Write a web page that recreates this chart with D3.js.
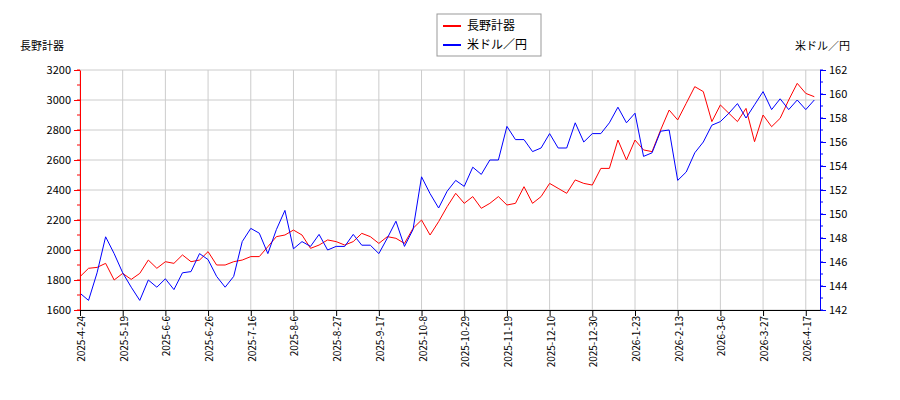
<!DOCTYPE html>
<html><head><meta charset="utf-8">
<script src="https://cdn.jsdelivr.net/npm/d3@7"></script>
<style>body{margin:0;background:#fff}text{font-family:"Noto Sans CJK JP","DejaVu Sans",sans-serif}</style>
</head><body><svg id="c" width="900" height="400"></svg>
<script>
const tickLabels=["2025-4-24","2025-5-19","2025-6-6","2025-6-26","2025-7-16","2025-8-6","2025-8-27","2025-9-17","2025-10-8","2025-10-29","2025-11-19","2025-12-10","2025-12-30","2026-1-23","2026-2-13","2026-3-6","2026-3-27","2026-4-17"];
const stock=[1822,1878,1884,1911,1800,1844,1804,1844,1933,1878,1922,1911,1967,1922,1933,1989,1900,1900,1922,1933,1956,1956,2022,2089,2100,2133,2100,2011,2033,2067,
2056,2033,2056,2111,2089,2044,2089,2078,2044,2144,2200,2100,2189,2289,2378,2311,2356,2278,2311,2356,2300,2311,2422,2311,2356,2444,2411,2378,
2467,2444,2433,2544,2544,2733,2600,2733,2667,2656,2800,2933,2867,2978,3089,3056,2856,2967,2911,2856,2944,2722,2900,2822,2878,3000,3111,3044,3022];
const usd=[143.4,142.8,145.1,148.1,146.7,145.1,143.9,142.8,144.5,143.9,144.6,143.7,145.1,145.2,146.7,146.2,144.8,143.9,144.8,147.7,148.8,148.4,146.7,148.7,150.3,147.1,147.7,147.3,148.3,147.0,
147.3,147.3,148.3,147.4,147.4,146.7,148.0,149.4,147.3,148.7,153.1,151.7,150.5,151.9,152.8,152.3,153.9,153.3,154.5,154.5,157.3,156.2,156.2,155.2,155.5,156.7,155.5,155.5,
157.6,156.0,156.7,156.7,157.6,158.9,157.6,158.4,154.8,155.1,156.9,157.0,152.8,153.5,155.1,156.0,157.4,157.7,158.4,159.2,158.0,159.1,160.2,158.7,159.6,158.7,159.5,158.7,159.5];
const STEP=3, TICKSTEP=15;
const svg=d3.select("#c");
const L=80,R=820,T=70,B=310;
const x=d3.scaleLinear().domain([0,260]).range([L,R]);
const yL=d3.scaleLinear().domain([1600,3200]).range([B,T]);
const yR=d3.scaleLinear().domain([142,162]).range([B,T]);
const tv=tickLabels.map((d,i)=>i*TICKSTEP);
const g=svg.append("g");
yL.ticks(8).forEach(v=>g.append("line").attr("x1",L).attr("x2",R).attr("y1",yL(v)).attr("y2",yL(v)).attr("stroke","#ccc"));
tv.forEach(v=>g.append("line").attr("x1",x(v)).attr("x2",x(v)).attr("y1",T).attr("y2",B).attr("stroke","#ccc"));
svg.append("path").datum(stock).attr("fill","none").attr("stroke","red").attr("d",d3.line().x((d,i)=>x(i*STEP)).y(d=>yL(d)));
svg.append("path").datum(usd).attr("fill","none").attr("stroke","blue").attr("d",d3.line().x((d,i)=>x(i*STEP)).y(d=>yR(d)));
const la=svg.append("g").attr("transform",`translate(${L},0)`).call(d3.axisLeft(yL).ticks(8).tickFormat(d3.format("d")).tickSizeOuter(0));
la.selectAll("text").attr("font-size",11);la.selectAll("path,line").attr("stroke","red");
la.append("g").selectAll("line").data(d3.range(1600,3201,100)).join("line").attr("x1",-3).attr("x2",0).attr("y1",d=>yL(d)).attr("y2",d=>yL(d)).attr("stroke","red");
const ra=svg.append("g").attr("transform",`translate(${R},0)`).call(d3.axisRight(yR).ticks(10).tickSizeOuter(0));
ra.selectAll("text").attr("font-size",11);ra.selectAll("path,line").attr("stroke","blue");
ra.append("g").selectAll("line").data(d3.range(142,162.1,1)).join("line").attr("x1",0).attr("x2",3).attr("y1",d=>yR(d)).attr("y2",d=>yR(d)).attr("stroke","blue");
const xa=svg.append("g").attr("transform",`translate(0,${B})`).call(d3.axisBottom(x).tickValues(tv).tickFormat((d,i)=>tickLabels[i]).tickSizeOuter(0));
xa.selectAll("text").attr("font-size",10).attr("transform","rotate(-90)").attr("text-anchor","end").attr("dx","-0.6em").attr("dy","-0.45em");
svg.append("text").attr("x",20).attr("y",50).attr("font-size",11).text("長野計器");
svg.append("text").attr("x",850).attr("y",50).attr("font-size",11).attr("text-anchor","end").text("米ドル／円");
const lg=svg.append("g");
lg.append("rect").attr("x",437).attr("y",14).attr("width",104).attr("height",42).attr("fill","#fff").attr("stroke","#999");
[["長野計器","red"],["米ドル／円","blue"]].forEach((d,i)=>{
 lg.append("line").attr("x1",443).attr("x2",461).attr("y1",26+i*19).attr("y2",26+i*19).attr("stroke",d[1]).attr("stroke-width",2);
 lg.append("text").attr("x",467).attr("y",30+i*19).attr("font-size",12).text(d[0]);
});
</script></body></html>
